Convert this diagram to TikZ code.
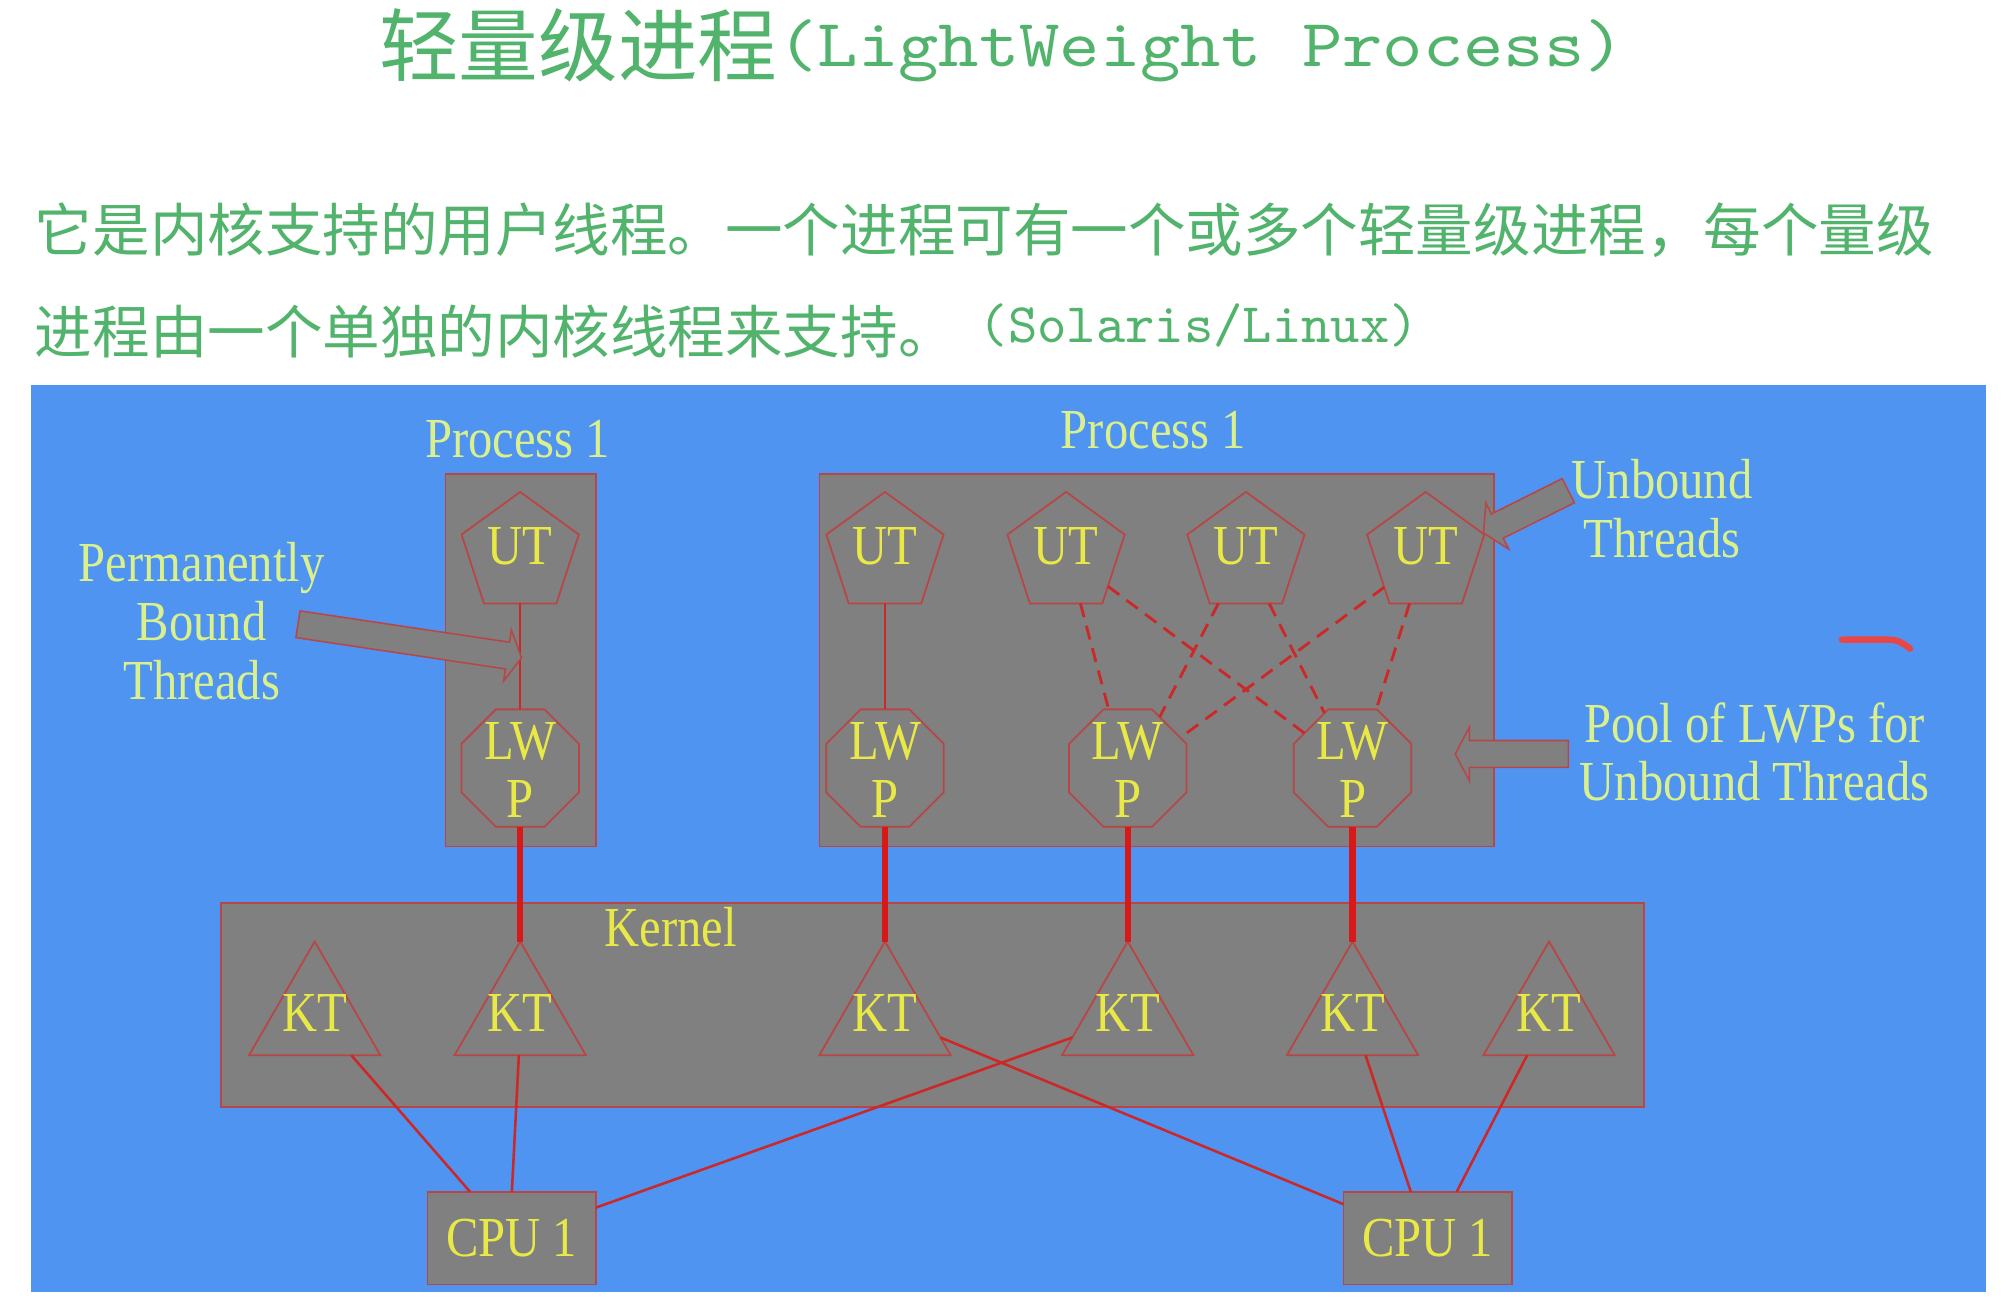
\documentclass[tikz,border=0pt]{standalone}
\usepackage{fontspec}
\setmainfont{Liberation Serif}
\newfontfamily\lblfont[FakeStretch=0.86]{Liberation Serif}
\newfontfamily\cjkfont{Noto Sans CJK SC}
\newfontfamily\titlettfont[FakeStretch=1.14]{lmmono10-regular.otf}
\newfontfamily\bodyttfont{lmmono10-regular.otf}
\usetikzlibrary{shapes.geometric,calc}
\definecolor{panelblue}{RGB}{80,148,242}
\definecolor{boxgray}{RGB}{128,128,128}
\definecolor{edgered}{RGB}{185,70,70}
\definecolor{linkred}{RGB}{205,40,40}
\definecolor{thickred}{RGB}{215,25,25}
\definecolor{titlegreen}{RGB}{82,180,108}
\definecolor{nodeyellow}{RGB}{232,232,70}
\definecolor{labelyellow}{RGB}{218,240,140}
\definecolor{markred}{RGB}{235,70,70}
\begin{document}
\begin{tikzpicture}[x=1pt,y=-1pt,
  grbox/.style={draw=edgered, line width=1.2pt, fill=boxgray, inner sep=0pt, outer sep=0pt},
  poly/.style={regular polygon, draw=edgered, line width=1.4pt, inner sep=0pt, outer sep=0pt},
  utnode/.style={poly, regular polygon sides=5, minimum size=96pt},
  lwpnode/.style={poly, regular polygon sides=8, minimum size=99pt},
  ktnode/.style={poly, regular polygon sides=3, minimum size=118pt},
  ntext/.style={text=nodeyellow, font=\lblfont\fontsize{44}{45}\selectfont, inner sep=0pt, align=center},
  ltext/.style={text=labelyellow, font=\lblfont\fontsize{44}{46}\selectfont, inner sep=0pt, align=center},
  thinlink/.style={draw=linkred, line width=2pt},
  thicklink/.style={draw=thickred, line width=5pt},
  dashlink/.style={draw=linkred, line width=2.2pt, dash pattern=on 11pt off 7pt},
  callout/.style={fill=boxgray, draw=edgered, line width=1.2pt, line join=miter},
  greentext/.style={anchor=base west, inner sep=0pt, text=titlegreen}
]
\useasboundingbox (0,0) rectangle (1568,1015);
\fill[white] (0,0) rectangle (1568,1015);

% title and description
\node[greentext] (title) at (295,58.5) {\cjkfont\fontsize{62}{62}\selectfont 轻量级进程\raisebox{6.5pt}{\titlettfont\fontsize{52.5}{52.5}\selectfont(LightWeight Process)}};
\node[greentext] (line1) at (27,196) {\cjkfont\fontsize{44.8}{44.8}\selectfont 它是内核支持的用户线程。一个进程可有一个或多个轻量级进程，每个量级};
\node[greentext] (line2) at (27,275) {\cjkfont\fontsize{44.8}{44.8}\selectfont 进程由一个单独的内核线程来支持。\hspace*{18pt}\raisebox{8pt}{\bodyttfont\fontsize{43.5}{43.5}\selectfont(Solaris/Linux)}};

% panel
\fill[panelblue] (24,300) rectangle (1546,1006);

% containers
\node[grbox, minimum width=117pt, minimum height=290pt] (procL) at (405.5,514) {};
\node[grbox, minimum width=525pt, minimum height=290pt] (procR) at (900.5,514) {};
\node[grbox, minimum width=1108pt, minimum height=159pt] (kernel) at (726,782.5) {};
\node[grbox, minimum width=131pt, minimum height=72pt, ntext] (cpuL) at (398.5,964) {CPU 1};
\node[grbox, minimum width=131pt, minimum height=72pt, ntext] (cpuR) at (1111.5,964) {CPU 1};

\node[ltext] (procLlbl) at (403,342) {Process 1};
\node[ltext] (procRlbl) at (898,335) {Process 1};
\node[ntext] (kernlbl) at (522,722) {Kernel};

% user threads
\node[utnode, label={[ntext, yshift=6pt]center:UT}] (ut1) at (405,431) {};
\node[utnode, label={[ntext, yshift=6pt]center:UT}] (utA) at (689,431) {};
\node[utnode, label={[ntext, yshift=6pt]center:UT}] (ut2) at (830,431) {};
\node[utnode, label={[ntext, yshift=6pt]center:UT}] (ut3) at (970,431) {};
\node[utnode, label={[ntext, yshift=6pt]center:UT}] (ut4) at (1110,431) {};

% LWPs
\node[lwpnode, label={[ntext, yshift=-1.5pt]center:{LW\\P}}] (lwp1) at (405,598) {};
\node[lwpnode, label={[ntext, yshift=-1.5pt]center:{LW\\P}}] (lwpA) at (689,598) {};
\node[lwpnode, label={[ntext, yshift=-1.5pt]center:{LW\\P}}] (lwp2) at (878,598) {};
\node[lwpnode, label={[ntext, yshift=-1.5pt]center:{LW\\P}}] (lwp3) at (1053,598) {};

% kernel threads
\node[ktnode, label={[ntext, yshift=3pt]center:KT}] (kt1) at (245,792) {};
\node[ktnode, label={[ntext, yshift=3pt]center:KT}] (kt2) at (405,792) {};
\node[ktnode, label={[ntext, yshift=3pt]center:KT}] (kt3) at (689,792) {};
\node[ktnode, label={[ntext, yshift=3pt]center:KT}] (kt4) at (878,792) {};
\node[ktnode, label={[ntext, yshift=3pt]center:KT}] (kt5) at (1053,792) {};
\node[ktnode, label={[ntext, yshift=3pt]center:KT}] (kt6) at (1206,792) {};

% bound thread links
\draw[thinlink] (ut1.270) -- (lwp1.90);
\draw[thinlink] (utA.270) -- (lwpA.90);

% unbound (dashed) links
\draw[dashlink] (ut2.-74) -- (lwp2.108);
\draw[dashlink] (ut2.-38) -- (lwp3.144);
\draw[dashlink] (ut3.-119) -- (lwp2.58);
\draw[dashlink] (ut3.-65) -- (lwp3.117);
\draw[dashlink] (ut4.-141) -- (lwp2.30);
\draw[dashlink] (ut4.-108) -- (lwp3.68);

% LWP to kernel thread
\draw[thicklink] (lwp1.270) -- (kt2.90);
\draw[thicklink] (lwpA.270) -- (kt3.90);
\draw[thicklink] (lwp2.270) -- (kt4.90);
\draw[thicklink] (lwp3.270) -- (kt5.90);

% kernel threads to CPUs
\draw[thinlink] (kt1.-46) -- (cpuL.132);
\draw[thinlink] (kt2.-92) -- (cpuL.90);
\draw[thinlink] (cpuL.20) -- (kt4.200);
\draw[thinlink] (kt3.-20) -- (cpuR.158);
\draw[thinlink] (kt5.-71) -- (cpuR.110);
\draw[thinlink] (kt6.-120) -- (cpuR.58);

% callout arrows
\filldraw[callout] (233.6,475.6) -- (396.7,500.0) -- (398.1,490.6) -- (406,512) -- (392.1,530.2) -- (393.5,520.8) -- (230.4,496.4) -- cycle;
\filldraw[callout] (1216.3,372.6) -- (1161.0,400.2) -- (1156.8,391.7) -- (1155,415) -- (1174.6,427.5) -- (1170.4,419.0) -- (1225.7,391.4) -- cycle;
\filldraw[callout] (1221,576.5) -- (1144,576.5) -- (1144,566) -- (1133,587) -- (1144,608) -- (1144,597.5) -- (1221,597.5) -- cycle;

% callout labels
\node[ltext] (permlbl) at (157,483.5) {Permanently\\Bound\\Threads};
\node[ltext] (unblbl) at (1294,396) {Unbound\\Threads};
\node[ltext, font=\lblfont\fontsize{44}{45}\selectfont] (poollbl) at (1366,585.5) {Pool of LWPs for\\Unbound Threads};

% hand-drawn mark
\draw[markred, line width=5pt, line cap=round] (1434,498) -- (1470,498) .. controls (1478,498) and (1482,501) .. (1487,505);
\end{tikzpicture}
\end{document}
